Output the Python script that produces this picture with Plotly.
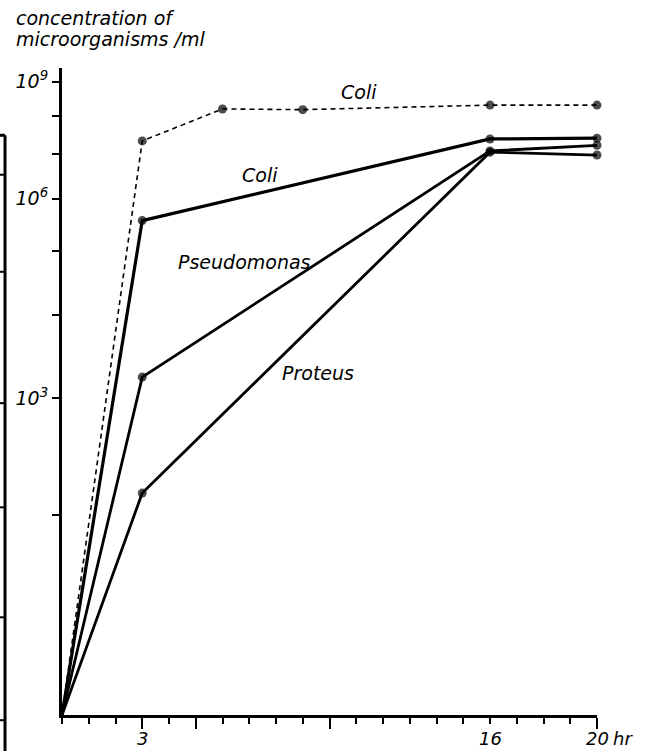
import plotly.graph_objects as go

# time in hours
t_dotted = [0, 3, 6, 9, 16, 20]
t_solid = [0, 3, 16, 20]

# log10 of concentration of microorganisms per ml (axis is logarithmic in the exponent)
coli_dotted = [1, 7.33, 8.19, 8.17, 8.30, 8.30]
coli_solid = [1, 5.56, 7.38, 7.40]
pseudomonas = [1, 3.23, 7.08, 7.22]
proteus = [1, 2.16, 7.05, 6.98]

y_tickvals = [2, 3, 4, 5, 6, 7, 8, 9]
y_ticktext = ["", "10<sup>3</sup>", "", "", "10<sup>6</sup>", "", "", "10<sup>9</sup>"]
x_major = [3, 5, 10, 20]
x_labels = [3, 16, 20]

FONT = "DejaVu Sans"

fig = go.Figure()

def add(t, y, dash, width, msize):
    fig.add_trace(go.Scatter(
        x=t, y=y, mode="lines+markers",
        line=dict(color="black", width=width, dash=dash),
        marker=dict(color="black", size=[0] + [msize] * (len(t) - 1),
                    line=dict(width=0)),
        showlegend=False, cliponaxis=False))

add(t_dotted, coli_dotted, "5px,4px", 1.6, 9)
add(t_solid, coli_solid, "solid", 3.2, 9)
add(t_solid, pseudomonas, "solid", 2.8, 9)
add(t_solid, proteus, "solid", 2.8, 9)

fig.update_layout(
    width=649, height=751,
    margin=dict(l=62, r=52, t=68, b=36),
    paper_bgcolor="white", plot_bgcolor="white",
    font=dict(family=FONT, size=19, color="black", style="italic"),
    xaxis=dict(range=[0, 20], showgrid=False, zeroline=False,
               showline=True, linecolor="black", linewidth=3,
               ticks="outside", ticklen=11, tickwidth=2, tickcolor="black",
               tickmode="array", tickvals=x_major, showticklabels=False,
               minor=dict(dtick=1, tick0=0, ticks="outside", ticklen=6,
                          tickwidth=2, tickcolor="black", showgrid=False)),
    yaxis=dict(type="log", range=[0, 0.975], showgrid=False, zeroline=False,
               showline=True, linecolor="black", linewidth=3,
               ticks="outside", ticklen=7, tickwidth=2, tickcolor="black",
               tickmode="array", tickvals=y_tickvals, ticktext=y_ticktext,
               tickfont=dict(size=19, style="italic")),
)

def label(text, xp, yp, size=19, xanchor="center", yanchor="middle"):
    fig.add_annotation(text=text, x=xp, y=yp, xref="paper", yref="paper",
                       showarrow=False, xanchor=xanchor, yanchor=yanchor,
                       font=dict(family=FONT, size=size, style="italic"))

label("Coli", 0.555, 0.963)
label("Coli", 0.370, 0.835)
label("Pseudomonas", 0.342, 0.700)
label("Proteus", 0.479, 0.529)
label("concentration of", -0.09, 1.077, size=19, xanchor="left")
label("microorganisms /ml", -0.09, 1.045, size=19, xanchor="left")

# x tick labels
LY = -0.036
for xv in x_labels:
    fig.add_annotation(text=str(xv), x=xv, y=LY, xref="x", yref="paper",
                       showarrow=False, yanchor="middle",
                       font=dict(family=FONT, size=18, style="italic"))
label("hr", 1.026, LY, size=18, xanchor="left")

# edge of the neighbouring figure, cut off at the left
xl = -0.1065
fig.add_shape(type="line", xref="paper", yref="paper", x0=xl, x1=xl, y0=0.896, y1=-0.06,
              line=dict(color="black", width=3))
fig.add_shape(type="line", xref="paper", yref="paper", x0=-0.12, x1=xl, y0=0.896, y1=0.896,
              line=dict(color="black", width=3))
for yp in [0.835, 0.685, 0.482, 0.321, 0.151, -0.008]:
    fig.add_shape(type="line", xref="paper", yref="paper", x0=-0.12, x1=xl, y0=yp, y1=yp,
                  line=dict(color="black", width=2))

fig.write_html("out.html", config={"displayModeBar": False},
               post_script="document.body.style.margin='0';document.body.style.overflow='hidden';")
